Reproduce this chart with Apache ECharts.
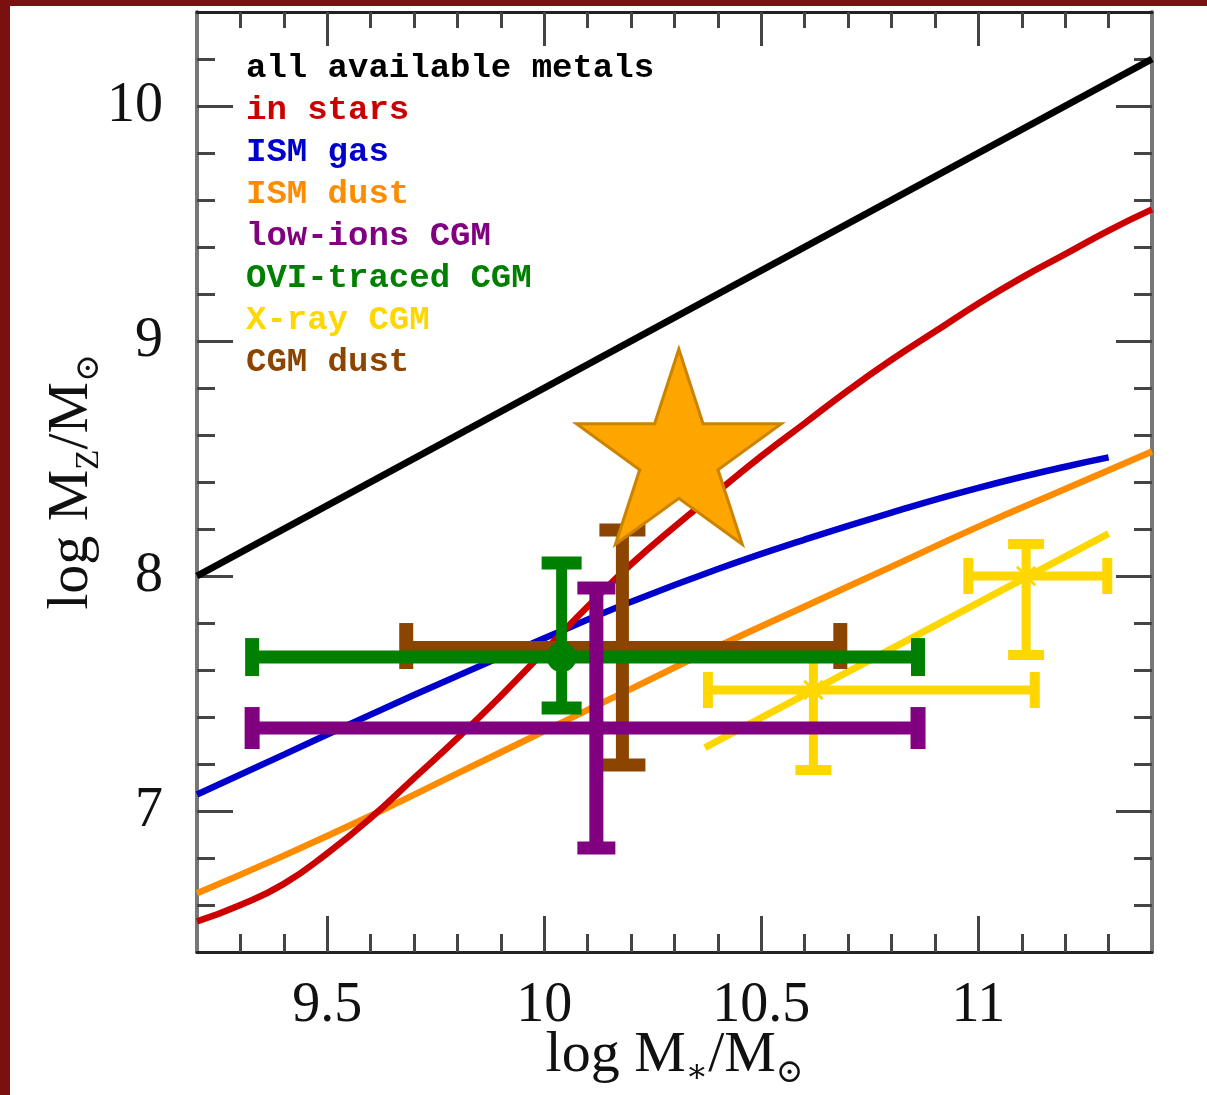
<!DOCTYPE html>
<html>
<head>
<meta charset="utf-8">
<script src="https://cdn.jsdelivr.net/npm/echarts@6/dist/echarts.min.js"></script>
<style>
html,body{margin:0;padding:0;background:#fff;}
#c{width:1207px;height:1095px;}
</style>
</head>
<body>
<div id="c"></div>
<script>
// ---------- data ----------
const xMajor = [9.5, 10, 10.5, 11];
const xMinor = [9.3, 9.4, 9.6, 9.7, 9.8, 9.9, 10.1, 10.2, 10.3, 10.4, 10.6, 10.7, 10.8, 10.9, 11.1, 11.2, 11.3];
const yMajor = [7, 8, 9, 10];
const yMinor = [6.6, 6.8, 7.2, 7.4, 7.6, 7.8, 8.2, 8.4, 8.6, 8.8, 9.2, 9.4, 9.6, 9.8, 10.2];

const allX = [9.2, 11.4];
const allY = [8.0, 10.2];

const starsX = [9.2, 9.3, 9.4, 9.5, 9.6, 9.7, 9.8, 9.9, 10.0, 10.1, 10.2, 10.3, 10.4, 10.5, 10.6, 10.7, 10.8, 10.9, 11.0, 11.1, 11.2, 11.3, 11.4];
const starsY = [6.53, 6.60, 6.69, 6.82, 6.97, 7.14, 7.31, 7.49, 7.68, 7.87, 8.05, 8.21, 8.36, 8.51, 8.65, 8.79, 8.92, 9.04, 9.16, 9.27, 9.37, 9.47, 9.56];

const gasX = [9.2, 9.4, 9.6, 9.8, 10.0, 10.2, 10.4, 10.6, 10.8, 11.0, 11.2, 11.3];
const gasY = [7.07, 7.24, 7.41, 7.575, 7.735, 7.89, 8.03, 8.155, 8.27, 8.375, 8.465, 8.505];

const dustX = [9.2, 9.4, 9.6, 9.8, 10.0, 10.2, 10.4, 10.6, 10.8, 11.0, 11.2, 11.4];
const dustY = [6.65, 6.81, 6.98, 7.16, 7.34, 7.52, 7.70, 7.87, 8.04, 8.21, 8.37, 8.53];

const xrayFitX = [10.37, 11.3];
const xrayFitY = [7.27, 8.18];

// error bars: [x, y, xLow, xHigh, yLow, yHigh]
const lowIons = [[10.12, 7.353, 9.327, 10.861, 6.843, 7.949]];
const oviCGM = [[10.04, 7.655, 9.327, 10.861, 7.438, 8.055]];
const cgmDust = [[10.18, 7.702, 9.682, 10.682, 7.196, 8.196]];
const xrayPts = [[10.62, 7.515, 10.377, 11.13, 7.174, 7.689], [11.11, 8.0, 10.977, 11.297, 7.664, 8.136]];

const starPoint = [[10.31, 8.55]];

const legendNames = ['all available metals', 'in stars', 'ISM gas', 'ISM dust', 'low-ions CGM', 'OVI-traced CGM', 'X-ray CGM', 'CGM dust'];
const legendColors = ['#000000', '#cc0000', '#0000cc', '#ff8c00', '#800080', '#008000', '#ffd700', '#8b4500'];

// ---------- helpers ----------
const zip = (xs, ys) => xs.map((x, i) => [x, ys[i]]);
const SERIF = '"Liberation Serif", "DejaVu Serif", serif';

function errRender(st) {
  return function (params, api) {
    const x = api.value(0), y = api.value(1);
    const l = api.coord([api.value(2), y]), r = api.coord([api.value(3), y]);
    const b = api.coord([x, api.value(4)]), t = api.coord([x, api.value(5)]);
    const c = api.coord([x, y]);
    const col = st.color;
    const ln = (x1, y1, x2, y2, w) => ({type: 'line', shape: {x1, y1, x2, y2}, style: {stroke: col, lineWidth: w, lineCap: 'butt'}});
    const ch = [
      ln(l[0], l[1], r[0], r[1], st.hw),
      ln(l[0], l[1] - st.hcap / 2, l[0], l[1] + st.hcap / 2, st.hcw),
      ln(r[0], r[1] - st.hcap / 2, r[0], r[1] + st.hcap / 2, st.hcw),
      ln(b[0], b[1], t[0], t[1], st.vw),
      ln(t[0] - st.vcap / 2, t[1], t[0] + st.vcap / 2, t[1], st.vcw),
      ln(b[0] - st.vcap / 2, b[1], b[0] + st.vcap / 2, b[1], st.vcw)
    ];
    if (st.dot) ch.push({type: 'circle', shape: {cx: c[0], cy: c[1], r: st.dot}, style: {fill: col}});
    if (st.ast) {
      const a = st.ast;
      for (let k = 0; k < 4; k++) {
        const ang = k * Math.PI / 4;
        ch.push(ln(c[0] - a * Math.cos(ang), c[1] - a * Math.sin(ang), c[0] + a * Math.cos(ang), c[1] + a * Math.sin(ang), 3));
      }
    }
    return {type: 'group', children: ch};
  };
}

const axLineDark = {color: '#222', width: 3};
const axLineGrey = {color: '#777', width: 4};
const tickStyle = {color: '#444', width: 3};

function xAx(pos, vals, len, withLabel, withLine) {
  return {
    type: 'value', min: 9.2, max: 11.4, position: pos,
    axisLine: {show: withLine, onZero: false, lineStyle: axLineDark},
    axisTick: {show: true, inside: true, length: len, customValues: vals, lineStyle: tickStyle},
    axisLabel: withLabel ? {show: true, customValues: vals, margin: 26, fontFamily: SERIF, fontSize: 56, color: '#111'} : {show: false},
    splitLine: {show: false}
  };
}
function yAx(pos, vals, len, withLabel, withLine) {
  return {
    type: 'value', min: 6.4, max: 10.4, position: pos,
    axisLine: {show: withLine, onZero: false, lineStyle: axLineGrey},
    axisTick: {show: true, inside: true, length: len, customValues: vals, lineStyle: tickStyle},
    axisLabel: withLabel ? {show: true, customValues: vals, margin: 34, fontFamily: SERIF, fontSize: 56, color: '#111'} : {show: false},
    splitLine: {show: false}
  };
}

const richName = {
  n: {fontFamily: SERIF, fontSize: 58, lineHeight: 58, padding: [0, 0, 10, 0], color: '#111'},
  s: {fontFamily: SERIF, fontSize: 33, lineHeight: 33, verticalAlign: 'bottom', color: '#111'}
};

const xA0 = xAx('bottom', xMajor, 36, true, true);
xA0.name = '{n|log M}{s|\u2217}{n|/M}{s|\u2299}';
xA0.nameLocation = 'middle';
xA0.nameGap = 80;
xA0.nameMoveOverlap = false;
xA0.nameTextStyle = {rich: richName};

const yA0 = yAx('left', yMajor, 36, true, true);
yA0.name = '{n|log M}{s|Z}{n|/M}{s|\u2299}';
yA0.nameLocation = 'middle';
yA0.nameGap = 91;
yA0.nameMoveOverlap = false;
yA0.nameTextStyle = {rich: richName};

const starPath = 'path://M0,-1 L0.2245,-0.309 L0.951,-0.309 L0.363,0.118 L0.588,0.809 L0,0.382 L-0.588,0.809 L-0.363,0.118 L-0.951,-0.309 L-0.2245,-0.309 Z';

const chart = echarts.init(document.getElementById('c'), null, {renderer: 'canvas'});
chart.setOption({
  backgroundColor: '#ffffff',
  animation: false,
  grid: {left: 197, right: 55, top: 12, bottom: 143, containLabel: false, outerBoundsMode: 'none'},
  xAxis: [xA0, xAx('bottom', xMinor, 18, false, false), xAx('top', xMajor, 34, false, true), xAx('top', xMinor, 16, false, false)],
  yAxis: [yA0, yAx('left', yMinor, 18, false, false), yAx('right', yMajor, 36, false, true), yAx('right', yMinor, 18, false, false)],
  legend: {
    data: legendNames.map((n, i) => ({name: n, textStyle: {color: legendColors[i]}})),
    orient: 'vertical', left: 240, top: 47, padding: 0, itemGap: 0,
    itemWidth: 0, itemHeight: 0, selectedMode: false,
    itemStyle: {opacity: 0}, lineStyle: {opacity: 0},
    textStyle: {fontFamily: '"Liberation Mono", "DejaVu Sans Mono", monospace', fontSize: 34, fontWeight: 'bold', lineHeight: 42.1}
  },
  graphic: [
    {type: 'rect', left: 0, top: 0, shape: {width: 10, height: 1095}, style: {fill: '#7a1010'}, z: 100},
    {type: 'rect', left: 0, top: 0, shape: {width: 1207, height: 6}, style: {fill: '#7a1010'}, z: 100}
  ],
  series: [
    {name: 'all available metals', type: 'line', data: zip(allX, allY), showSymbol: false, symbol: 'none', lineStyle: {color: '#000', width: 7}, itemStyle: {color: '#000'}, z: 2},
    {name: 'ISM gas', type: 'line', data: zip(gasX, gasY), smooth: 0.5, showSymbol: false, symbol: 'none', lineStyle: {color: '#0000cc', width: 6.5}, itemStyle: {color: '#0000cc'}, z: 2},
    {name: 'ISM dust', type: 'line', data: zip(dustX, dustY), smooth: 0.5, showSymbol: false, symbol: 'none', lineStyle: {color: '#ff8c00', width: 6.5}, itemStyle: {color: '#ff8c00'}, z: 2},
    {name: 'in stars', type: 'line', data: zip(starsX, starsY), smooth: 0.5, showSymbol: false, symbol: 'none', lineStyle: {color: '#cc0000', width: 6.5}, itemStyle: {color: '#cc0000'}, z: 2},
    {name: 'X-ray CGM', type: 'line', data: zip(xrayFitX, xrayFitY), showSymbol: false, symbol: 'none', lineStyle: {color: '#ffd700', width: 7}, itemStyle: {color: '#ffd700'}, z: 3},
    {name: 'X-ray CGM', type: 'custom', data: xrayPts, encode: {x: 0, y: 1}, z: 4, itemStyle: {color: '#ffd700'},
      renderItem: errRender({color: '#ffd700', hw: 9, hcw: 10, hcap: 36, vw: 9, vcw: 10, vcap: 36, ast: 13})},
    {name: 'CGM dust', type: 'custom', data: cgmDust, encode: {x: 0, y: 1}, z: 5, itemStyle: {color: '#8b4500'},
      renderItem: errRender({color: '#8b4500', hw: 10, hcw: 14, hcap: 46, vw: 13, vcw: 13, vcap: 46})},
    {name: 'OVI-traced CGM', type: 'custom', data: oviCGM, encode: {x: 0, y: 1}, z: 6, itemStyle: {color: '#008000'},
      renderItem: errRender({color: '#008000', hw: 13, hcw: 14, hcap: 38, vw: 11, vcw: 13, vcap: 40, dot: 15})},
    {name: 'low-ions CGM', type: 'custom', data: lowIons, encode: {x: 0, y: 1}, z: 7, itemStyle: {color: '#800080'},
      renderItem: errRender({color: '#800080', hw: 13, hcw: 15, hcap: 42, vw: 14, vcw: 13, vcap: 38})},
    {name: 'this work', type: 'scatter', data: starPoint, symbol: starPath, symbolSize: [205, 195], z: 10,
      itemStyle: {color: '#ffa500', borderColor: '#cc8400', borderWidth: 3, opacity: 1}}
  ]
});
</script>
</body>
</html>
